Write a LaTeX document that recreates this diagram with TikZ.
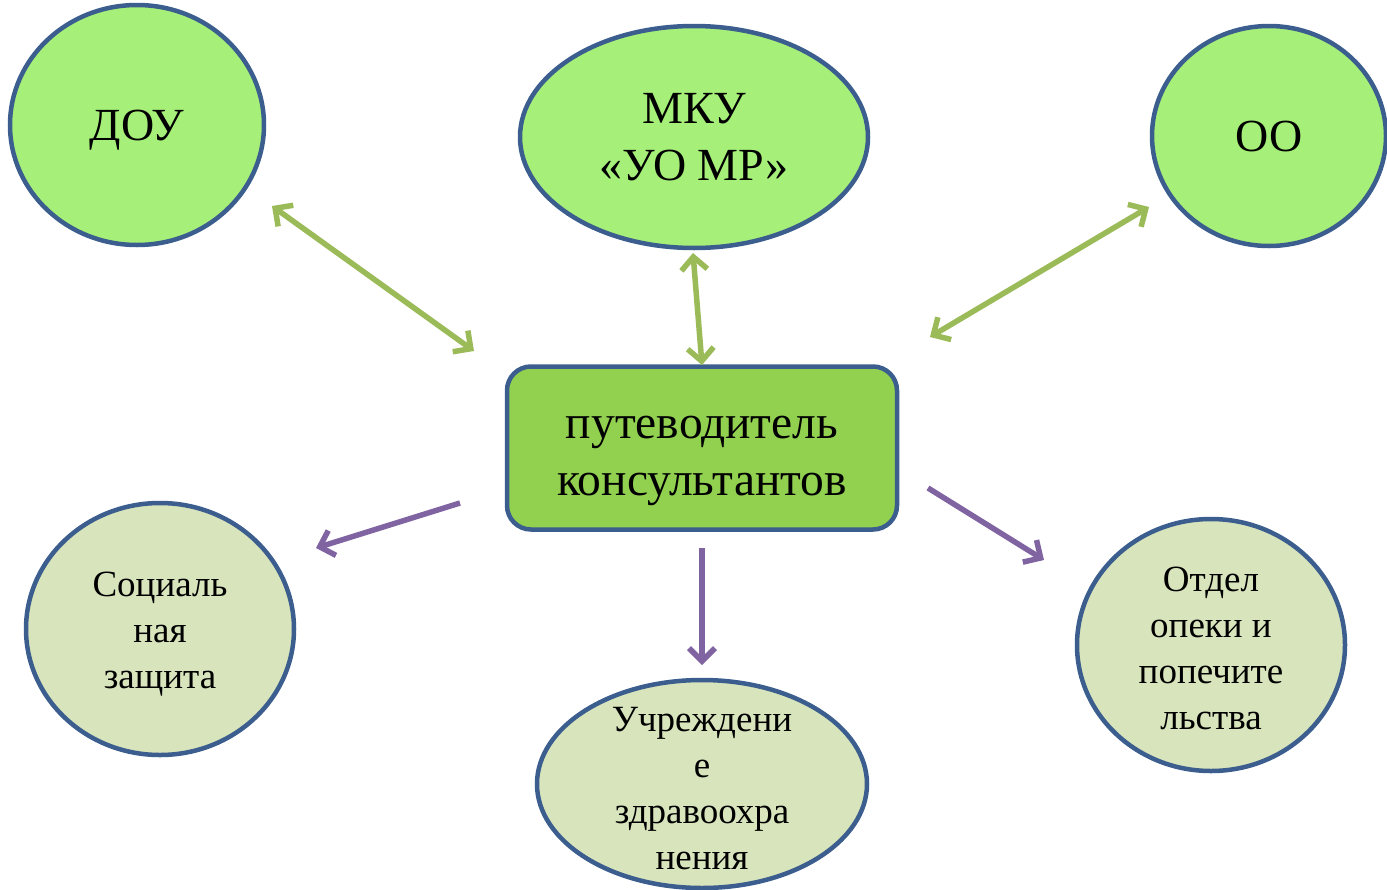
\documentclass[tikz,border=0pt]{standalone}
\usepackage{fontspec}
\setmainfont{Liberation Serif}
\usetikzlibrary{shapes.geometric,arrows.meta}
\definecolor{bordblue}{HTML}{3B5E8E}
\definecolor{topgreen}{HTML}{A6F07A}
\definecolor{boxgreen}{HTML}{92D050}
\definecolor{palegreen}{HTML}{D8E4BC}
\definecolor{arrgreen}{HTML}{9BBB59}
\definecolor{arrpurple}{HTML}{8064A2}
\tikzset{
  topell/.style={ellipse, draw=bordblue, line width=4.5pt, fill=topgreen, inner sep=0pt, align=center, font=\fontsize{46}{57}\selectfont},
  botell/.style={ellipse, draw=bordblue, line width=4.5pt, fill=palegreen, inner sep=0pt, align=center, font=\fontsize{37}{46}\selectfont},
  centbox/.style={rectangle, rounded corners=24pt, draw=bordblue, line width=4.5pt, fill=boxgreen, inner sep=0pt},
  plaintext/.style={inner sep=0pt, align=center},
  garrow/.style={draw=arrgreen, line width=5.5pt, {Straight Barb[length=13pt,width=26pt]}-{Straight Barb[length=13pt,width=26pt]}},
  parrow/.style={draw=arrpurple, line width=5.5pt, -{Straight Barb[length=13pt,width=26pt]}},
}
\begin{document}
\begin{tikzpicture}[x=1pt,y=-1pt]
\useasboundingbox (0,0) rectangle (1387,889);
\node[topell, minimum width=254pt, minimum height=240pt] (dou) at (137,125) {};
\node[plaintext, font=\fontsize{46}{57}\selectfont] (doutext) at (137,130) {ДОУ};
\node[topell, minimum width=348pt, minimum height=222pt] (mku) at (694,137) {МКУ\\«УО МР»};
\node[topell, minimum width=234pt, minimum height=220pt] (oo) at (1269,136) {ОО};
\node[centbox, minimum width=390pt, minimum height=163pt] (guide) at (702,448) {};
\node[plaintext, font=\fontsize{47.5}{57}\selectfont] (guidetext) at (702,461) {путеводитель\\консультантов};
\node[botell, minimum width=268pt, minimum height=252pt] (soc) at (160,629) {};
\node[plaintext, font=\fontsize{37}{46}\selectfont] (soctext) at (160,634) {Социаль\\ная\\защита};
\node[botell, minimum width=330pt, minimum height=208pt] (health) at (702,784) {};
\node[plaintext, font=\fontsize{37}{46}\selectfont] (healthtext) at (702,789) {Учреждени\\е\\здравоохра\\нения};
\node[botell, minimum width=268pt, minimum height=252pt] (opeka) at (1211,645) {};
\node[plaintext, font=\fontsize{37}{46}\selectfont] (opekatext) at (1211,648) {Отдел\\опеки и\\попечите\\льства};
\coordinate (a1s) at (272,206);
\coordinate (a1e) at (474,351);
\coordinate (a2s) at (693,253);
\coordinate (a2e) at (702,365);
\coordinate (a3s) at (1149,207);
\coordinate (a3e) at (930,337);
\coordinate (p1s) at (460,503);
\coordinate (p1e) at (316,548);
\coordinate (p2s) at (702,548);
\coordinate (p2e) at (702,665);
\coordinate (p3s) at (928,488);
\coordinate (p3e) at (1044,560);
\draw[garrow] (a1s) -- (a1e);
\draw[garrow] (a2s) -- (a2e);
\draw[garrow] (a3s) -- (a3e);
\draw[parrow] (p1s) -- (p1e);
\draw[parrow] (p2s) -- (p2e);
\draw[parrow] (p3s) -- (p3e);
\end{tikzpicture}
\end{document}
